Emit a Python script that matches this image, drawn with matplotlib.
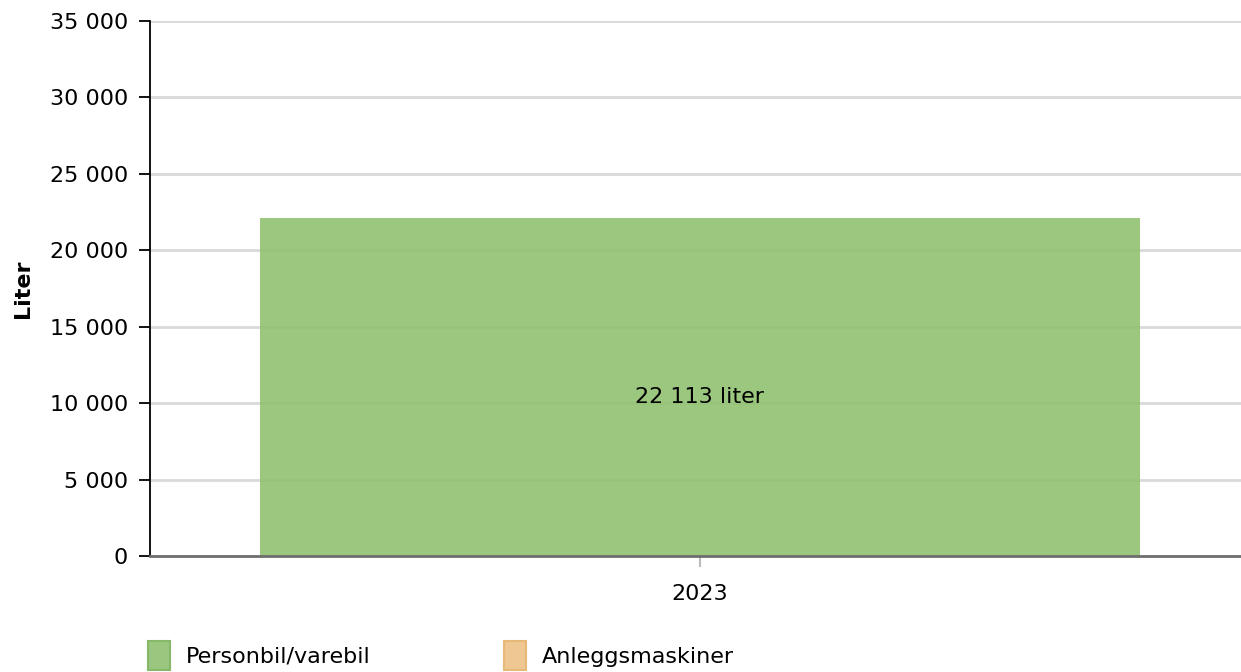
import matplotlib.pyplot as plt
from matplotlib.patches import Patch
from matplotlib.ticker import FuncFormatter

# data
years = ['2023']
personbil = [22113]
series_names = ['Personbil/varebil', 'Anleggsmaskiner']
series_colors = ['#90c171', '#eec792']
legend_colors = ['#9bc67f', '#eec792']
series_edges = ['#86b86a', '#e8b878']
y_ticks = [0, 5000, 10000, 15000, 20000, 25000, 30000, 35000]

plt.rcParams['font.family'] = ['DejaVu Sans']

fig = plt.figure(figsize=(12.41, 6.72), dpi=100)
ax = fig.add_axes([150 / 1241, 116 / 672, 1091 / 1241, 535 / 672])

x = list(range(len(years)))
bars = ax.bar(x, personbil, width=0.806, color=series_colors[0], alpha=0.9,
              zorder=2, linewidth=0)

for b, v in zip(bars, personbil):
    ax.annotate(f'{v:,}'.replace(',', ' ') + ' liter',
                (b.get_x() + b.get_width() / 2, v / 2),
                xytext=(0, -7), textcoords='offset points',
                ha='center', va='center', fontsize=16, color='black', zorder=3)

ax.set_xlim(-0.504, 0.496)
ax.set_ylim(0, 35000)
ax.set_yticks(y_ticks)
ax.yaxis.set_major_formatter(FuncFormatter(lambda v, p: f'{int(v):,}'.replace(',', ' ')))
ax.set_xticks(x)
ax.set_xticklabels(years)

ax.grid(axis='y', color='#d9d9d9', linewidth=2, zorder=1)
ax.set_axisbelow(True)

for s in ['top', 'right']:
    ax.spines[s].set_visible(False)
ax.spines['left'].set_color('black')
ax.spines['left'].set_linewidth(1.3)
ax.spines['bottom'].set_color('#6e6e6e')
ax.spines['bottom'].set_linewidth(2)

ax.tick_params(axis='y', length=8, width=1.3, color='black', labelsize=16, pad=8)
ax.tick_params(axis='x', length=8, width=1.5, color='#bbbbbb', labelsize=16, pad=12)

ax.set_ylabel('Liter', fontsize=16, fontweight='bold', labelpad=12)

handles = [Patch(facecolor=c, edgecolor=e, linewidth=1.5)
           for c, e in zip(legend_colors, series_edges)]
fig.legend(handles, series_names, loc='upper left',
           bbox_to_anchor=(148 / 1241, 31 / 672), ncol=2, frameon=False,
           fontsize=16, handlelength=1.0, handleheight=1.6,
           handletextpad=0.7, columnspacing=6.0, borderpad=0, borderaxespad=0)

plt.savefig('out.png', dpi=100, facecolor='white')
